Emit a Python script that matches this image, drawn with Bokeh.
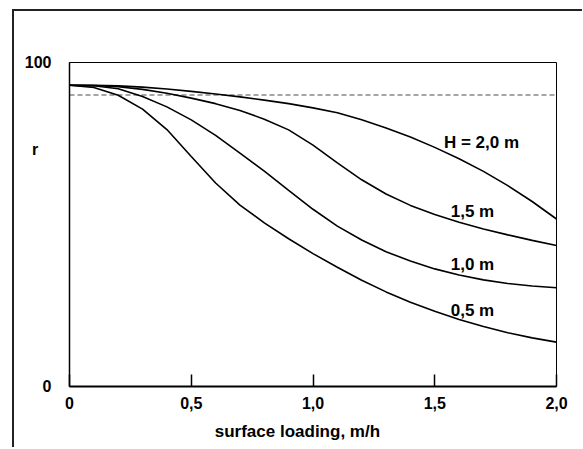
from bokeh.plotting import figure
from bokeh.models import Label, FixedTicker, Range1d, LinearAxis
from bokeh.embed import file_html
from bokeh.resources import INLINE

# ---- data ----
loading = [0.0, 0.1, 0.2, 0.3, 0.4, 0.5, 0.6, 0.7, 0.8, 0.9, 1.0,
           1.1, 1.2, 1.3, 1.4, 1.5, 1.6, 1.7, 1.8, 1.9, 2.0]
r_h05 = [93, 92.3, 89.9, 85.6, 79.3, 71.0, 62.8, 56.0, 50.5, 45.6, 41.0,
         36.8, 32.8, 29.2, 26.0, 23.2, 20.7, 18.5, 16.6, 15.0, 13.7]
r_h10 = [93, 92.8, 91.9, 89.5, 86.3, 82.3, 77.5, 72.0, 66.5, 60.5, 54.7,
         49.5, 45.2, 41.6, 38.7, 36.3, 34.4, 32.9, 31.8, 31.0, 30.5]
r_h15 = [93, 92.9, 92.5, 91.7, 90.5, 89.0, 87.3, 85.2, 82.5, 79.2, 74.5,
         69.0, 63.8, 59.4, 55.9, 53.1, 50.7, 48.6, 46.8, 45.1, 43.5]
r_h20 = [93, 93, 92.8, 92.4, 91.8, 91.1, 90.3, 89.4, 88.4, 87.3, 86.0,
         84.5, 82.3, 79.8, 77.0, 73.8, 70.3, 66.4, 62.0, 57.1, 51.7]
series = [r_h05, r_h10, r_h15, r_h20]
curve_labels = ["0,5 m", "1,0 m", "1,5 m", "H = 2,0 m"]
target_r = 90
x_ticks = [0, 0.5, 1.0, 1.5, 2.0]
x_tick_labels = ["0", "0,5", "1,0", "1,5", "2,0"]
y_ticks = [0, 100]
y_tick_labels = ["0", "100"]
x_title = "surface loading, m/h"
y_title = "r"

FONT = "Liberation Sans"

p = figure(output_backend="svg", toolbar_location=None,
           frame_width=487, frame_height=324,
           min_border_left=55, min_border_right=26,
           min_border_top=51, min_border_bottom=61,
           x_range=Range1d(0, 2), y_range=Range1d(0, 100))
p.styles = {"border-top": "2px solid #222222", "border-left": "2px solid #222222",
            "margin-left": "12px", "margin-top": "9px"}
p.background_fill_color = "white"
p.border_fill_color = "white"
p.grid.visible = False
p.outline_line_color = "black"
p.outline_line_width = 1

# x axis
xa = p.xaxis[0]
xa.ticker = FixedTicker(ticks=x_ticks)
xa.major_label_overrides = {t: l for t, l in zip(x_ticks, x_tick_labels)}
xa.major_tick_in = 12
xa.major_tick_out = 0
xa.major_tick_line_width = 1.5
xa.minor_tick_line_color = None
xa.axis_line_width = 2
xa.major_label_standoff = 10
xa.major_label_text_font = FONT
xa.major_label_text_font_style = "bold"
xa.major_label_text_font_size = "16px"
xa.major_label_text_color = "black"

# x-axis title, placed as a label of a tick-less second axis
title_pos = 0.936
tax = LinearAxis(ticker=FixedTicker(ticks=[title_pos]),
                 major_label_overrides={title_pos: x_title},
                 axis_line_color=None, major_tick_line_color=None,
                 minor_tick_line_color=None, major_label_standoff=4,
                 major_label_text_font=FONT, major_label_text_font_style="bold",
                 major_label_text_font_size="17px", major_label_text_color="black")
p.add_layout(tax, "below")

# y axis (with the "r" label as an extra tick label)
r_pos = 73.1
ya = p.yaxis[0]
ya.ticker = FixedTicker(ticks=y_ticks + [r_pos])
ov = {t: l for t, l in zip(y_ticks, y_tick_labels)}
ov[r_pos] = y_title + "\u00a0" * 3
ya.major_label_overrides = ov
ya.major_tick_line_color = None
ya.minor_tick_line_color = None
ya.axis_line_width = 1.5
ya.major_label_standoff = 12
ya.major_label_text_font = FONT
ya.major_label_text_font_style = "bold"
ya.major_label_text_font_size = "16px"
ya.major_label_text_color = "black"

# target dashed line
p.line([loading[0], loading[-1]], [target_r, target_r],
       line_color="#888888", line_width=1.5, line_dash="5 3")

for s in series:
    p.line(loading, s, line_color="black", line_width=1.6)

label_pos = [(1.655, 23.5), (1.655, 37.7), (1.655, 54.0), (1.692, 75.3)]
for (lx, ly), txt in zip(label_pos, curve_labels):
    p.add_layout(Label(x=lx, y=ly, text=txt, text_align="center",
                       text_baseline="middle", text_font=FONT,
                       text_font_style="bold", text_font_size="17px",
                       text_color="black"))

open("out.html", "w").write(file_html(p, INLINE))
